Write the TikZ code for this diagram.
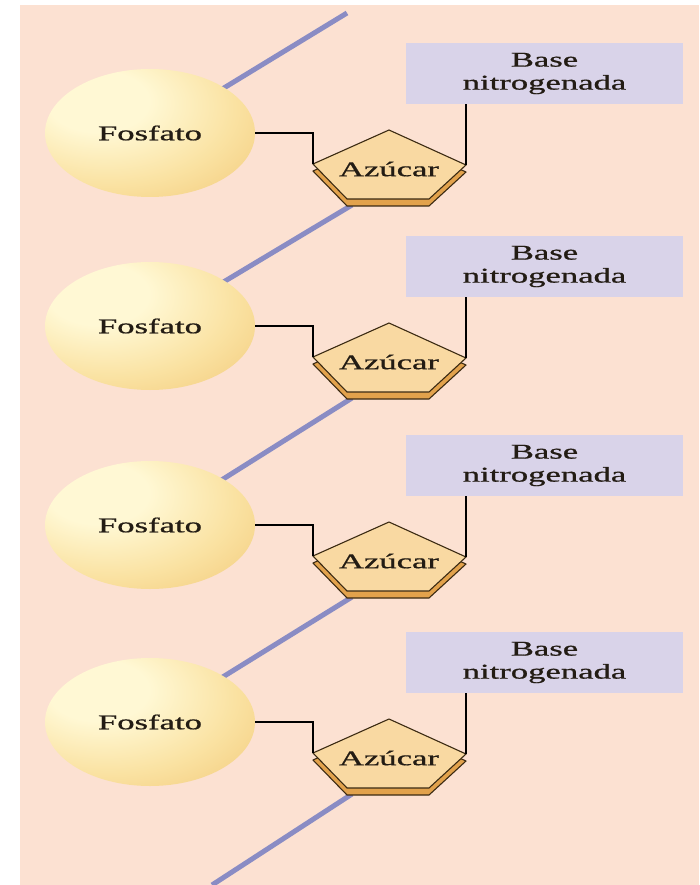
\documentclass[tikz,border=0pt]{standalone}
\usepackage{fontspec}
\setmainfont{Liberation Serif}
\newfontfamily\lblfont{Liberation Serif}[FakeBold=0.7]
\usepackage{graphicx}
\usetikzlibrary{shapes.geometric,backgrounds,calc}

\definecolor{paper}{HTML}{FCE1D2}
\definecolor{backbone}{HTML}{8A8CC4}
\definecolor{basefill}{HTML}{D9D3E9}
\definecolor{sugarfill}{HTML}{F9D9A2}
\definecolor{sugarside}{HTML}{E2A24C}
\definecolor{sugarline}{HTML}{3B2A12}
\definecolor{ballhi}{HTML}{FFF8D4}
\definecolor{ballmid}{HTML}{FAE2A2}
\definecolor{ballmid2}{HTML}{F2C776}
\definecolor{balledge}{HTML}{D99E52}
\definecolor{ink}{HTML}{231C14}

% phosphate sphere: light spot up-left, warmer towards the lower right
\pgfdeclareradialshading{fosfball}{\pgfpoint{-14bp}{14bp}}{%
  color(0bp)=(ballhi); color(12bp)=(ballhi); color(30bp)=(ballmid);
  color(48bp)=(ballmid2); color(64bp)=(balledge); color(100bp)=(balledge)}

% labels are set wide, as in the printed figure
\newcommand\wtext[1]{\scalebox{1.65}[1]{#1}}

\tikzset{
  lbl/.style={font=\lblfont\fontsize{21}{22}\selectfont, text=ink, inner sep=0pt},
  phos/.style={ellipse, minimum width=210pt, minimum height=128pt,
               inner sep=0pt, shade, shading=fosfball, lbl},
  basebox/.style={rectangle, fill=basefill, minimum width=277pt,
                  minimum height=61pt, align=center, lbl},
  link/.style={draw=black, line width=1.1pt},
  bb/.style={draw=backbone, line width=5pt},
  sugar/.style={fill=sugarfill, draw=sugarline, line width=1.1pt, line join=round},
  sugarbase/.style={fill=sugarside, draw=sugarline, line width=1.1pt, line join=round},
}

\begin{document}
\begin{tikzpicture}[x=1pt, y=-1pt]
\useasboundingbox (0,0) rectangle (699,885);
\begin{pgfonlayer}{background}
  \fill[paper] (20,5) rectangle (699,885);
\end{pgfonlayer}

\foreach \i/\o in {1/0, 2/193, 3/392, 4/589} {
  % phosphate
  \node[phos] (f\i) at (150,133+\o) {\wtext{Fosfato}};
  % nitrogenous base
  \node[basebox] (b\i) at (544.5,73.5+\o) {\wtext{Base}\\[1pt]\wtext{nitrogenada}};
  % sugar pentagon corners
  \coordinate (t\i)  at (389,130+\o);
  \coordinate (l\i)  at (313,164+\o);
  \coordinate (r\i)  at (466,165+\o);
  \coordinate (bl\i) at (347,199+\o);
  \coordinate (br\i) at (429,199+\o);
  \coordinate (sb\i) at (352,205+\o);
  % thickness of the ring, then its top face
  \draw[sugarbase] ($(t\i)+(0,7)$) -- ($(r\i)+(0,7)$) -- ($(br\i)+(0,7)$)
        -- ($(bl\i)+(0,7)$) -- ($(l\i)+(0,7)$) -- cycle;
  \draw[sugar] (t\i) -- (r\i) -- (br\i) -- (bl\i) -- (l\i) -- cycle;
  \node[lbl] (a\i) at (389,169+\o) {\wtext{Azúcar}};
  % bonds
  \draw[link] (f\i.east) -| (l\i);
  \draw[link] (r\i) -- (b\i.south -| r\i);
}

% sugar-phosphate backbone
\coordinate (head) at (347,13);
\coordinate (tail) at (212,885);
\begin{pgfonlayer}{background}
  \draw[bb] (head) -- (f1.center);
  \draw[bb] (sb1) -- (f2.center);
  \draw[bb] (sb2) -- (f3.center);
  \draw[bb] (sb3) -- (f4.center);
  \draw[bb] (sb4) -- (tail);
\end{pgfonlayer}
\end{tikzpicture}
\end{document}
